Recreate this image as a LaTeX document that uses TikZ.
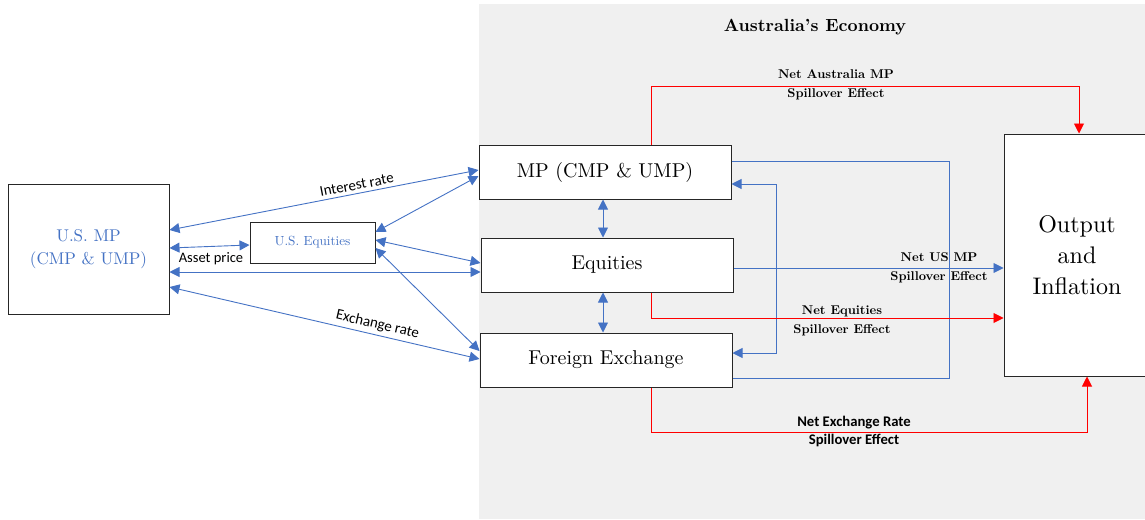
\documentclass[tikz,border=0pt]{standalone}
\usepackage{fontspec}
\setmainfont{lmroman10-regular.otf}[BoldFont=lmroman10-bold.otf]
\newfontfamily\carlito{Carlito}
\usetikzlibrary{arrows.meta,calc}
\definecolor{ablue}{HTML}{4472C4}
\definecolor{ared}{HTML}{FF0000}
\definecolor{bgc}{HTML}{F0F0F0}
\begin{document}
\begin{tikzpicture}[x=1pt,y=-1pt,
 box/.style={draw=black!85, line width=1pt, fill=white, inner sep=0pt, align=center},
 bl/.style={draw=ablue, line width=0.9pt},
 rd/.style={draw=ared, line width=0.9pt},
 tipe/.style={-{Triangle[length=10pt,width=10pt]}},
 dtip/.style={{Triangle[length=10pt,width=10pt]}-{Triangle[length=10pt,width=10pt]}},
 lab/.style={font=\bfseries\fontsize{12.7}{19}\selectfont, align=center},
 sans/.style={font=\carlito\fontsize{15}{17}\selectfont}
]
\useasboundingbox (0,0) rectangle (1145,519);
\fill[bgc] (479,4) rectangle (1145,519);
\node[font=\bfseries\fontsize{17.6}{20}\selectfont] (title) at (815,27) {Australia's Economy};

\node[box, minimum width=161pt, minimum height=130pt, text=ablue, font=\fontsize{17}{23}\selectfont] (usmp) at (88.5,249) {U.S. MP\\(CMP \& UMP)};
\node[box, minimum width=125pt, minimum height=41pt, text=ablue, font=\fontsize{13.2}{15}\selectfont] (useq) at (312.5,242.5) {U.S. Equities};
\node[box, minimum width=252pt, minimum height=54pt, font=\fontsize{20}{24}\selectfont] (mp) at (605,172) {MP (CMP \& UMP)};
\node[box, minimum width=252pt, minimum height=54pt, font=\fontsize{20}{24}\selectfont] (eq) at (607,265) {Equities};
\node[box, minimum width=252pt, minimum height=54pt, font=\fontsize{20}{24}\selectfont] (fx) at (606,360) {Foreign Exchange};
\node[box, minimum width=146pt, minimum height=242pt, font=\fontsize{24}{31}\selectfont] (out) at (1077,255) {Output\\and\\Inflation};

% US side connectors
\draw[bl,dtip] (usmp.east |- 0,230) -- (mp.west |- 0,170) node[midway, sans, sloped, above=0pt, xshift=35pt] {Interest rate};
\draw[bl,dtip] (usmp.east |- 0,248) -- (useq.west |- 0,245);
\node[sans, font=\carlito\fontsize{14.5}{17}\selectfont] (ap) at (211,259) {Asset price};
\draw[bl,dtip] (usmp.east |- 0,272) -- (eq.west |- 0,272);
\draw[bl,dtip] (usmp.east |- 0,287) -- (fx.west |- 0,359) node[midway, sans, sloped, above=0pt, xshift=52pt] {Exchange rate};
\draw[bl,dtip] (useq.east |- 0,232) -- (mp.west |- 0,176);
\draw[bl,dtip] (useq.east |- 0,240) -- (eq.west |- 0,263);
\draw[bl,dtip] (useq.east |- 0,248) -- (fx.west |- 0,351);

% vertical between Australian boxes
\draw[bl,dtip] (603,0 |- mp.south) -- (603,0 |- eq.north);
\draw[bl,dtip] (603,0 |- eq.south) -- (603,0 |- fx.north);

% blue loops
\draw[bl] (mp.east |- 0,161) -- (949,161) -- (949,378) -- (fx.east |- 0,378);
\draw[bl,dtip] (mp.east |- 0,184) -- (776,184) -- (776,353) -- (fx.east |- 0,353);
\draw[bl,tipe] (eq.east |- 0,268) -- (out.west |- 0,268);
\node[lab] (lus) at (939,267.5) {Net US MP\\Spillover Effect};

% red connectors
\draw[rd,tipe] (651,0 |- mp.north) -- (651,86) -- (1079,86) -- (1079,0 |- out.north);
\node[lab] (lau) at (836,84.5) {Net Australia MP\\Spillover Effect};
\draw[rd,tipe] (651,0 |- eq.south) -- (651,318) -- (out.west |- 0,318);
\node[lab] (leq) at (842,320.5) {Net Equities\\Spillover Effect};
\draw[rd,tipe] (651,0 |- fx.south) -- (651,432) -- (1087,432) -- (1087,0 |- out.south);
\node[lab, font=\carlito\bfseries\fontsize{14.7}{18}\selectfont] (lfx) at (854,431) {Net Exchange Rate\\Spillover Effect};
\end{tikzpicture}
\end{document}
